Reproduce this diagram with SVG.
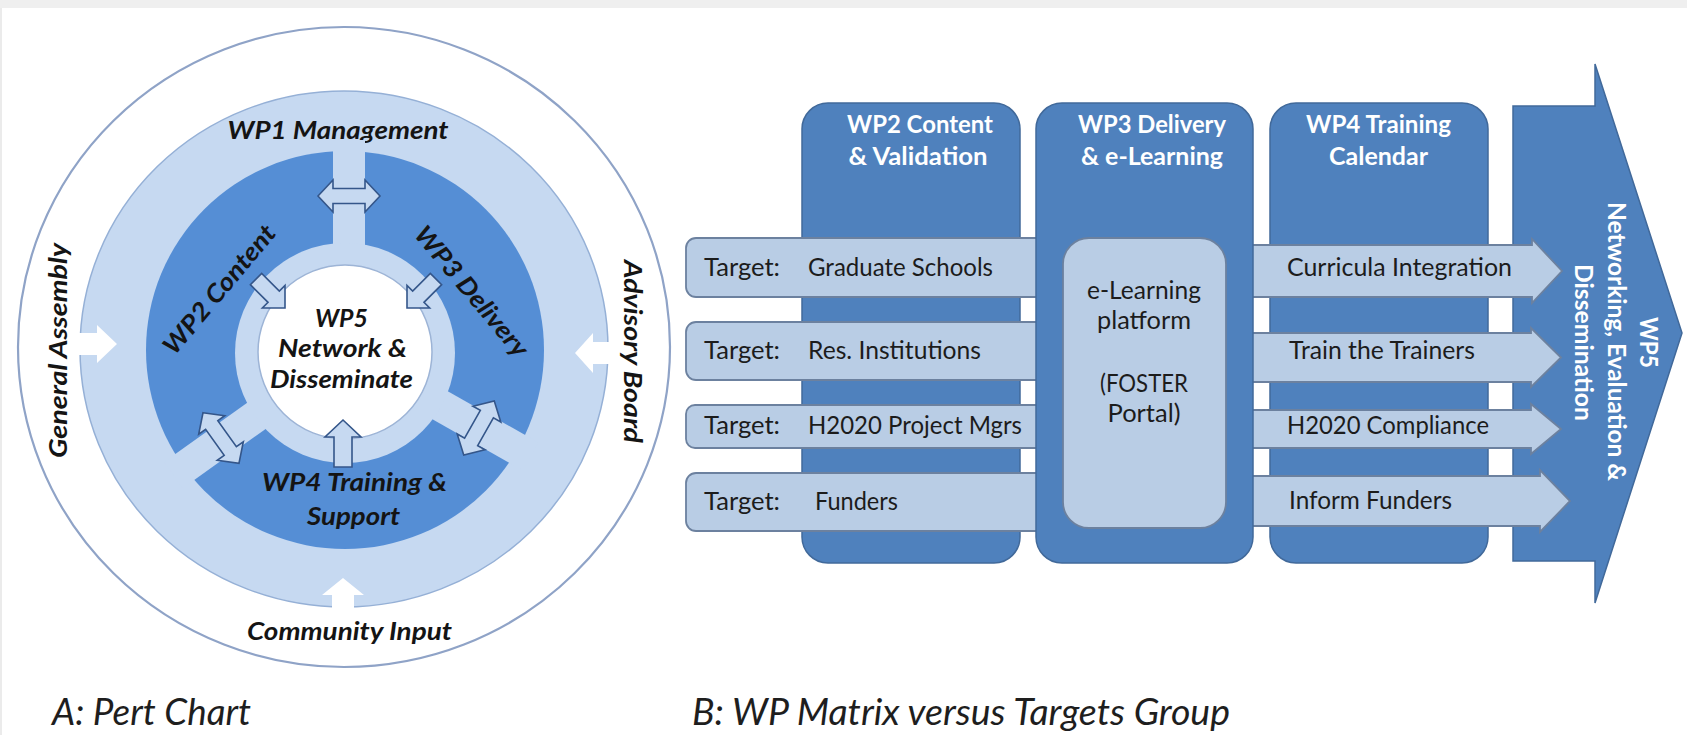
<svg xmlns="http://www.w3.org/2000/svg" width="1687" height="735" viewBox="0 0 1687 735">
<defs>
<style>
.pt{font-family:Lato,"Liberation Sans",sans-serif;font-weight:700;font-style:italic;font-size:25px;fill:#141414;text-anchor:middle}
.cap{font-family:Lato,"Liberation Sans",sans-serif;font-style:italic;font-size:37px;fill:#1e1e1e}
.hd{font-family:Lato,"Liberation Sans",sans-serif;font-weight:700;font-size:25px;fill:#ffffff;text-anchor:middle}
.tg{font-family:Lato,"Liberation Sans",sans-serif;font-size:25px;fill:#1c1c1c}
.tgm{font-family:Lato,"Liberation Sans",sans-serif;font-size:25px;fill:#1c1c1c;text-anchor:middle}
.col{fill:#4F81BD;stroke:#41699A;stroke-width:1.5}
.bar{fill:#B9CDE5;stroke:#6C819F;stroke-width:1.8}
.lt{fill:#C6D9F1}
.dbl{fill:#C6D9F1;stroke:#34568A;stroke-width:1.6;stroke-linejoin:miter}
.wh{fill:#ffffff}
</style>
<path id="dblArrow" d="M -31,0 L -16,-16 L -16,-7.5 L 16,-7.5 L 16,-16 L 31,0 L 16,16 L 16,7.5 L -16,7.5 L -16,16 Z"/>
<path id="sglArrow" d="M 0,0 L -16,-16 L -16,-8 L -41,-8 L -41,8 L -16,8 L -16,16 Z"/>
</defs>
<rect x="0" y="0" width="1687" height="735" fill="#ffffff"/>
<rect x="0" y="0" width="1687" height="8" fill="#EFEFEF"/>
<rect x="0" y="8" width="2" height="727" fill="#EBEBEB"/>

<!-- A: Pert chart -->
<g id="outer-ring">
<ellipse cx="344" cy="347" rx="326" ry="320" fill="#ffffff" stroke="#8FA3C7" stroke-width="2.2"/>
</g>
<g id="wp1-management">
<ellipse cx="344" cy="349" rx="264" ry="258" fill="#C6D9F1" stroke="#95B0D6" stroke-width="1.5"/>
<text class="pt" x="338" y="139" textLength="221" lengthAdjust="spacingAndGlyphs">WP1 Management</text>
</g>
<g id="dark-ring">
<circle cx="345" cy="350" r="199" fill="#558ED5"/>
<rect class="lt" x="333" y="140" width="32" height="120"/>
<rect class="lt" x="-16" y="-212" width="32" height="130" transform="translate(346,352) rotate(-125.5)"/>
<rect class="lt" x="-16" y="-212" width="32" height="130" transform="translate(346,352) rotate(119.5)"/>
<circle cx="345" cy="353" r="110" fill="#C6D9F1"/>
</g>
<g id="wp2-content">
<text class="pt" transform="translate(226,295) rotate(-50)" x="0" y="0" textLength="160" lengthAdjust="spacingAndGlyphs">WP2 Content</text>
</g>
<g id="wp3-delivery">
<text class="pt" transform="translate(465,297) rotate(50)" x="0" y="0" textLength="162" lengthAdjust="spacingAndGlyphs">WP3 Delivery</text>
</g>
<g id="wp4-training">
<text class="pt" x="354.5" y="491" textLength="185" lengthAdjust="spacingAndGlyphs">WP4 Training &amp;</text>
<text class="pt" x="353.5" y="525" textLength="93" lengthAdjust="spacingAndGlyphs">Support</text>
</g>
<g id="wp5-network">
<circle cx="345" cy="352" r="87" fill="#ffffff" stroke="#9DB4D6" stroke-width="1.5"/>
<text class="pt" x="341.5" y="327" textLength="53" lengthAdjust="spacingAndGlyphs">WP5</text>
<text class="pt" x="342.5" y="357" textLength="129" lengthAdjust="spacingAndGlyphs">Network &amp;</text>
<text class="pt" x="341.5" y="388" textLength="143" lengthAdjust="spacingAndGlyphs">Disseminate</text>
</g>
<g id="general-assembly">
<text class="pt" transform="translate(67,350.5) rotate(-90)" x="0" y="0" textLength="215" lengthAdjust="spacingAndGlyphs">General Assembly</text>
</g>
<g id="advisory-board">
<text class="pt" transform="translate(624,351.5) rotate(90)" x="0" y="0" textLength="183" lengthAdjust="spacingAndGlyphs">Advisory Board</text>
</g>
<g id="community-input">
<text class="pt" x="349.5" y="640" textLength="205" lengthAdjust="spacingAndGlyphs">Community Input</text>
</g>

<g id="connectors">
<use href="#dblArrow" class="dbl" transform="translate(349,196)"/>
<use href="#dblArrow" class="dbl" transform="translate(221,438) rotate(54.5)"/>
<use href="#dblArrow" class="dbl" transform="translate(479,428) rotate(-60.5)"/>
<use href="#sglArrow" class="dbl" transform="translate(285,308) rotate(45)"/>
<use href="#sglArrow" class="dbl" transform="translate(407,308) rotate(135)"/>
<path class="dbl" d="M 343,420 L 361,437 L 352,437 L 352,467 L 334,467 L 334,437 L 325,437 Z"/>
<path class="wh" d="M 79,333 L 97,333 L 97,325 L 117,344 L 97,363 L 97,355 L 79,355 Z"/>
<path class="wh" d="M 609,342 L 593,342 L 593,333 L 575,353 L 593,373 L 593,364 L 609,364 Z"/>
<path class="wh" d="M 332,609 L 332,595 L 322,595 L 343,578 L 364,595 L 354,595 L 354,609 Z"/>
</g>

<!-- B: WP matrix -->
<g id="wp2-column">
<rect class="col" x="802" y="103" width="218" height="460" rx="26"/>
<text class="hd" x="920" y="133" textLength="146" lengthAdjust="spacingAndGlyphs">WP2 Content</text>
<text class="hd" x="918" y="165" textLength="139" lengthAdjust="spacingAndGlyphs">&amp; Validation</text>
</g>
<g id="wp4-column">
<rect class="col" x="1270" y="103" width="218" height="460" rx="26"/>
<text class="hd" x="1378.5" y="133" textLength="145" lengthAdjust="spacingAndGlyphs">WP4 Training</text>
<text class="hd" x="1378.5" y="165" textLength="99" lengthAdjust="spacingAndGlyphs">Calendar</text>
</g>
<g id="wp5-arrow">
<polygon class="col" points="1513,106 1595,106 1595,64 1682,333 1595,603 1595,561 1513,561"/>
<text class="hd" transform="translate(1640,342.5) rotate(90)" x="0" y="0" textLength="51" lengthAdjust="spacingAndGlyphs">WP5</text>
<text class="hd" transform="translate(1608,341.5) rotate(90)" x="0" y="0" textLength="279" lengthAdjust="spacingAndGlyphs">Networking, Evaluation &amp;</text>
<text class="hd" transform="translate(1575,342.5) rotate(90)" x="0" y="0" textLength="157" lengthAdjust="spacingAndGlyphs">Dissemination</text>
</g>
<g id="target-graduate-schools">
<rect class="bar" x="686" y="238" width="370" height="59" rx="10"/>
<text class="tg" x="704" y="276" textLength="76" lengthAdjust="spacingAndGlyphs">Target:</text>
<text class="tg" x="808" y="276" textLength="185" lengthAdjust="spacingAndGlyphs">Graduate Schools</text>
</g>
<g id="target-res-institutions">
<rect class="bar" x="686" y="322" width="370" height="58" rx="10"/>
<text class="tg" x="704" y="359" textLength="76" lengthAdjust="spacingAndGlyphs">Target:</text>
<text class="tg" x="808" y="359" textLength="173" lengthAdjust="spacingAndGlyphs">Res. Institutions</text>
</g>
<g id="target-h2020-project-mgrs">
<rect class="bar" x="686" y="405" width="370" height="43" rx="9"/>
<text class="tg" x="704" y="434" textLength="76" lengthAdjust="spacingAndGlyphs">Target:</text>
<text class="tg" x="808" y="434" textLength="214" lengthAdjust="spacingAndGlyphs">H2020 Project Mgrs</text>
</g>
<g id="target-funders">
<rect class="bar" x="686" y="473" width="370" height="58" rx="10"/>
<text class="tg" x="704" y="510" textLength="76" lengthAdjust="spacingAndGlyphs">Target:</text>
<text class="tg" x="815" y="510" textLength="83" lengthAdjust="spacingAndGlyphs">Funders</text>
</g>
<g id="out-curricula-integration">
<polygon class="bar" points="1248,245 1532,245 1532,239 1562,271 1532,303 1532,297 1248,297"/>
<text class="tg" x="1287" y="276" textLength="225" lengthAdjust="spacingAndGlyphs">Curricula Integration</text>
</g>
<g id="out-train-the-trainers">
<polygon class="bar" points="1248,333 1531,333 1531,328 1561,357.5 1531,387 1531,382 1248,382"/>
<text class="tg" x="1289" y="359" textLength="186" lengthAdjust="spacingAndGlyphs">Train the Trainers</text>
</g>
<g id="out-h2020-compliance">
<polygon class="bar" points="1248,410 1531,410 1531,404 1561,429 1531,454 1531,448 1248,448"/>
<text class="tg" x="1287" y="434" textLength="202" lengthAdjust="spacingAndGlyphs">H2020 Compliance</text>
</g>
<g id="out-inform-funders">
<polygon class="bar" points="1248,476 1540,476 1540,470 1570,501 1540,532 1540,526 1248,526"/>
<text class="tg" x="1289" y="509" textLength="163" lengthAdjust="spacingAndGlyphs">Inform Funders</text>
</g>
<g id="wp3-column">
<rect class="col" x="1036" y="103" width="217" height="460" rx="26"/>
<text class="hd" x="1152" y="133" textLength="148" lengthAdjust="spacingAndGlyphs">WP3 Delivery</text>
<text class="hd" x="1152" y="165" textLength="142" lengthAdjust="spacingAndGlyphs">&amp; e-Learning</text>
</g>
<g id="elearning-platform">
<rect class="bar" x="1063" y="238" width="163" height="290" rx="26"/>
<text class="tgm" x="1144" y="299" textLength="114" lengthAdjust="spacingAndGlyphs">e-Learning</text>
<text class="tgm" x="1144" y="329" textLength="94" lengthAdjust="spacingAndGlyphs">platform</text>
<text class="tgm" x="1144" y="392" textLength="88" lengthAdjust="spacingAndGlyphs">(FOSTER</text>
<text class="tgm" x="1144" y="422" textLength="73" lengthAdjust="spacingAndGlyphs">Portal)</text>
</g>

<g id="captions">
<text class="cap" x="52" y="725" textLength="199" lengthAdjust="spacingAndGlyphs">A: Pert Chart</text>
<text class="cap" x="692" y="725" textLength="538" lengthAdjust="spacingAndGlyphs">B: WP Matrix versus Targets Group</text>
</g>
</svg>
